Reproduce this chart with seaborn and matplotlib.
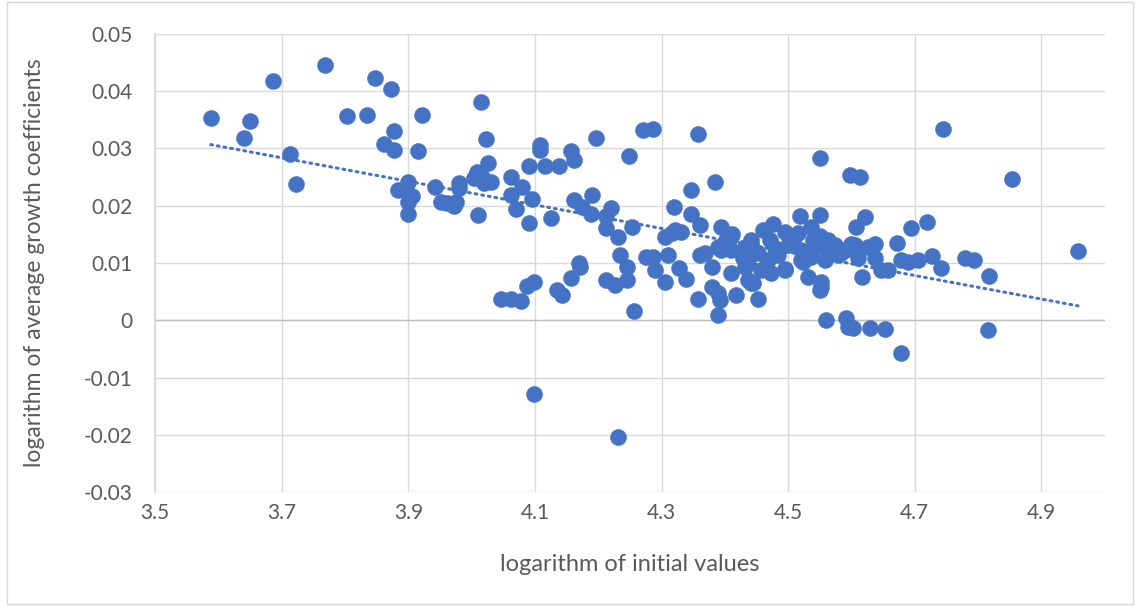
import matplotlib
matplotlib.use("Agg")
import matplotlib.pyplot as plt
import matplotlib.ticker as mticker
from matplotlib.patches import Rectangle
import seaborn as sns
import pandas as pd

x_vals = [
    3.588, 3.640, 3.650, 3.687, 3.713, 3.722, 3.768, 3.804, 3.835, 3.848,
    3.872, 3.861, 3.878, 3.878, 3.884, 3.922, 3.916, 4.015, 4.023, 4.026,
    3.900, 3.906, 3.900, 3.900, 3.943, 3.952, 3.961, 3.972, 3.975, 3.980,
    3.980, 4.004, 4.009, 4.017, 4.020, 4.031, 4.010, 4.062, 4.062, 4.070,
    4.080, 4.095, 4.091, 4.125, 4.091, 4.116, 4.138, 4.108, 4.108, 4.157,
    4.161, 4.196, 4.270, 4.286, 4.357, 4.248, 4.161, 4.174, 4.190, 4.188,
    4.220, 4.213, 4.212, 4.232, 4.254, 4.320, 4.347, 4.385, 4.347, 4.361,
    4.316, 4.331, 4.306, 4.235, 4.245, 4.245, 4.212, 4.226, 4.172, 4.169,
    4.157, 4.135, 4.143, 4.257, 4.275, 4.287, 4.290, 4.305, 4.311, 4.322,
    4.327, 4.339, 4.361, 4.358, 4.379, 4.379, 4.390, 4.046, 4.062, 4.078,
    4.087, 4.098, 4.098, 4.231, 4.550, 4.394, 4.369, 4.393, 4.390, 4.417,
    4.453, 4.410, 4.394, 4.410, 4.432, 4.442, 4.445, 4.437, 4.473, 4.495,
    4.476, 4.519, 4.550, 4.550, 4.560, 4.531, 4.552, 4.550, 4.412, 4.442,
    4.472, 4.495, 4.516, 4.536, 4.574, 4.599, 4.390, 4.410, 4.432, 4.453,
    4.480, 4.500, 4.520, 4.543, 4.563, 4.583, 4.606, 4.437, 4.457, 4.495,
    4.520, 4.536, 4.558, 4.552, 4.442, 4.591, 4.594, 4.602, 4.598, 4.613,
    4.621, 4.607, 4.694, 4.720, 4.672, 4.637, 4.626, 4.606, 4.590, 4.579,
    4.610, 4.637, 4.646, 4.657, 4.678, 4.689, 4.705, 4.728, 4.741, 4.780,
    4.794, 4.818, 4.617, 4.629, 4.653, 4.678, 4.815, 4.744, 4.853, 4.958,
    4.461, 4.508, 4.484, 4.524, 4.469, 4.429, 4.402, 4.539, 4.563,
]
y_vals = [
    0.0353, 0.0318, 0.0348, 0.0418, 0.0290, 0.0238, 0.0446, 0.0357, 0.0359, 0.0423,
    0.0404, 0.0308, 0.0330, 0.0297, 0.0227, 0.0358, 0.0295, 0.0381, 0.0316, 0.0274,
    0.0241, 0.0217, 0.0206, 0.0185, 0.0232, 0.0206, 0.0204, 0.0199, 0.0206, 0.0239,
    0.0231, 0.0248, 0.0259, 0.0250, 0.0239, 0.0241, 0.0183, 0.0250, 0.0218, 0.0194,
    0.0232, 0.0211, 0.0169, 0.0178, 0.0269, 0.0269, 0.0269, 0.0306, 0.0297, 0.0295,
    0.0280, 0.0318, 0.0332, 0.0334, 0.0325, 0.0286, 0.0210, 0.0198, 0.0218, 0.0185,
    0.0196, 0.0182, 0.0161, 0.0145, 0.0162, 0.0197, 0.0227, 0.0241, 0.0185, 0.0166,
    0.0152, 0.0154, 0.0145, 0.0114, 0.0093, 0.0070, 0.0070, 0.0061, 0.0093, 0.0100,
    0.0073, 0.0052, 0.0044, 0.0017, 0.0110, 0.0110, 0.0087, 0.0066, 0.0114, 0.0157,
    0.0091, 0.0072, 0.0114, 0.0038, 0.0093, 0.0058, 0.0009, 0.0037, 0.0037, 0.0034,
    0.0060, 0.0066, -0.0128, -0.0203, 0.0283, 0.0162, 0.0117, 0.0035, 0.0047, 0.0044,
    0.0037, 0.0145, 0.0122, 0.0082, 0.0093, 0.0134, 0.0065, 0.0070, 0.0082, 0.0089,
    0.0168, 0.0182, 0.0183, 0.0147, 0.0000, 0.0075, 0.0066, 0.0052, 0.0150, 0.0140,
    0.0140, 0.0154, 0.0152, 0.0162, 0.0131, 0.0134, 0.0128, 0.0122, 0.0128, 0.0117,
    0.0126, 0.0131, 0.0122, 0.0128, 0.0122, 0.0117, 0.0122, 0.0100, 0.0087, 0.0087,
    0.0105, 0.0110, 0.0105, 0.0058, 0.0065, 0.0004, -0.0012, -0.0014, 0.0253, 0.0251,
    0.0180, 0.0163, 0.0161, 0.0172, 0.0135, 0.0134, 0.0128, 0.0131, 0.0122, 0.0114,
    0.0108, 0.0108, 0.0087, 0.0087, 0.0105, 0.0101, 0.0106, 0.0112, 0.0092, 0.0108,
    0.0105, 0.0077, 0.0076, -0.0014, -0.0016, -0.0057, -0.0017, 0.0334, 0.0246, 0.0121,
    0.0157, 0.0140, 0.0114, 0.0101, 0.0105, 0.0108, 0.0140, 0.0140, 0.0140,
]
x_ticks = [3.5, 3.7, 3.9, 4.1, 4.3, 4.5, 4.7, 4.9]
y_ticks = [-0.03, -0.02, -0.01, 0, 0.01, 0.02, 0.03, 0.04, 0.05]
x_title = "logarithm of initial values"
y_title = "logarithm of average growth coefficients"

df = pd.DataFrame({"x": x_vals, "y": y_vals})

sns.set_theme(style="white")
plt.rcParams["font.family"] = ["Lato", "DejaVu Sans"]

blue = "#4472C4"
grid_c = "#d9d9d9"
text_c = "#595959"

fig = plt.figure(figsize=(11.4, 6.06), dpi=100)
fig.patches.append(Rectangle((0.006, 0.004), 0.988, 0.992, transform=fig.transFigure,
                             fill=False, edgecolor=grid_c, linewidth=1.0))
ax = fig.add_axes([0.136, 0.188, 0.833, 0.756])

sns.scatterplot(data=df, x="x", y="y", ax=ax, color=blue, s=135,
                edgecolor=blue, linewidth=0.3, zorder=3)
sns.regplot(data=df, x="x", y="y", ax=ax, scatter=False, ci=None, truncate=True,
            line_kws=dict(color=blue, linewidth=2.2, linestyle=(0, (0.6, 1.6)),
                          dash_capstyle="round", zorder=4))

ax.set_xlim(3.5, 5.0)
ax.set_ylim(-0.03, 0.05)
ax.set_xticks(x_ticks)
ax.set_yticks(y_ticks)
ax.yaxis.set_major_formatter(mticker.FuncFormatter(lambda v, p: f"{round(v, 3):g}"))
ax.xaxis.set_major_formatter(mticker.FuncFormatter(lambda v, p: f"{round(v, 2):g}"))
ax.grid(True, color=grid_c, linewidth=1.0, zorder=0)
ax.set_axisbelow(True)
for s in ["top", "right", "bottom"]:
    ax.spines[s].set_visible(False)
ax.spines["left"].set_color(grid_c)
ax.axhline(0, color="#bfbfbf", linewidth=1.0, zorder=1)
ax.tick_params(axis="x", length=0, labelsize=15, labelcolor=text_c, pad=8)
ax.tick_params(axis="y", length=0, labelsize=15, labelcolor=text_c, pad=16)
ax.set_xlabel(x_title, fontsize=17, color=text_c, labelpad=22)
ax.set_ylabel(y_title, fontsize=16.5, color=text_c, labelpad=28)

fig.savefig("out.png", dpi=100)
